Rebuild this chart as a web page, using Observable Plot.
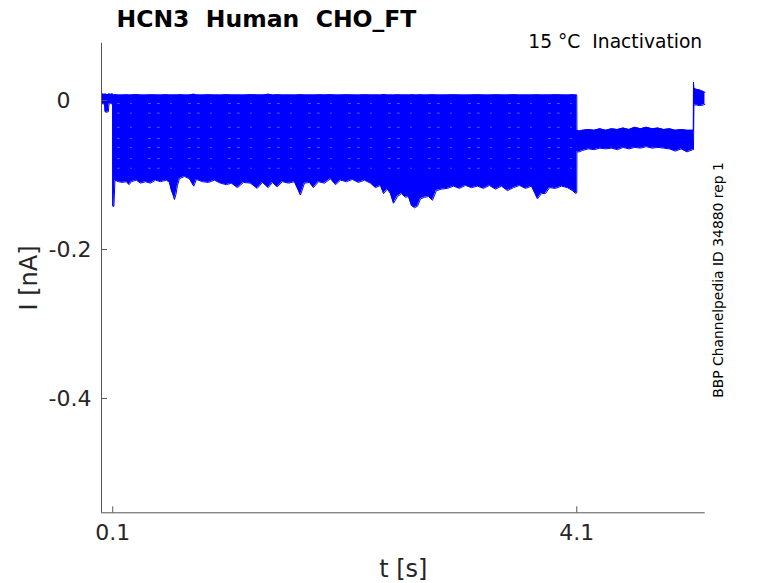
<!DOCTYPE html>
<html><head><meta charset="utf-8">
<script src="https://cdn.jsdelivr.net/npm/d3@7"></script>
<script src="https://cdn.jsdelivr.net/npm/@observablehq/plot@0.6"></script>
<style>
body{margin:0;background:#fff}
svg{display:block}
svg text{white-space:pre}
</style>
</head><body><div id="chart"></div>
<script>
// Envelope of all sweeps (time in s, current in nA)
const times = [
 0.003,0.030,0.034,0.045,0.062,0.067,0.080,0.099,
 0.100,0.110,0.119,0.149,0.184,0.218,0.240,0.261,0.304,0.339,0.382,0.425,0.468,0.511,0.563,0.589,
 0.606,0.623,0.632,0.645,0.658,0.675,0.718,0.761,0.798,0.822,0.873,0.925,0.977,1.028,1.080,1.123,
 1.175,1.227,1.287,1.345,1.391,1.440,1.477,1.517,1.563,1.615,1.666,1.718,1.753,1.796,1.830,1.873,
 1.925,1.977,2.020,2.063,2.115,2.166,2.218,2.270,2.322,2.365,2.408,2.434,2.468,2.494,2.520,2.554,
 2.589,2.623,2.649,2.675,2.701,2.727,2.753,2.787,2.822,2.856,2.890,2.933,2.985,3.037,3.089,3.140,
 3.192,3.244,3.296,3.347,3.399,3.451,3.503,3.554,3.606,3.658,3.710,3.761,3.796,3.830,3.865,3.916,
 3.968,4.020,4.063,4.089,4.100,
 4.101,4.120,4.150,4.200,4.250,4.300,4.350,4.400,4.450,4.500,4.550,4.600,4.650,4.700,4.750,4.800,
 4.850,4.900,4.950,5.000,5.050,5.100,5.105,
 5.106,5.110,5.130,5.160,5.190,5.205
];
const upper = [
 0.009,0.008,0.009,0.008,0.008,0.009,0.008,0.009,
 0.0075,0.0075,0.0078,0.0072,0.0074,0.0076,0.0073,0.0075,0.0079,0.0074,0.0072,0.0076,0.0075,0.0073,0.0077,0.0074,
 0.0075,0.0072,0.0076,0.0074,0.0075,0.0078,0.0073,0.0074,0.0085,0.0075,0.0073,0.0076,0.0074,0.0072,0.0077,0.0075,
 0.0074,0.0073,0.0078,0.0075,0.0074,0.0084,0.0073,0.0076,0.0074,0.0075,0.0072,0.0077,0.0075,0.0074,0.0073,0.0076,
 0.0075,0.0078,0.0073,0.0074,0.0076,0.0075,0.0072,0.0077,0.0074,0.0075,0.0073,0.0079,0.0074,0.0075,0.0073,0.0076,
 0.0074,0.0075,0.0072,0.0077,0.0075,0.0074,0.0076,0.0073,0.0075,0.0078,0.0074,0.0073,0.0075,0.0076,0.0074,0.0072,
 0.0075,0.0077,0.0074,0.0073,0.0076,0.0075,0.0074,0.0078,0.0073,0.0075,0.0074,0.0076,0.0073,0.0075,0.0074,0.0077,
 0.0075,0.0073,0.0076,0.0074,0.0075,
 -0.040,-0.041,-0.040,-0.039,-0.040,-0.038,-0.040,-0.038,-0.039,-0.037,-0.039,-0.036,-0.038,-0.036,-0.038,-0.037,
 -0.039,-0.038,-0.040,-0.039,-0.040,-0.040,-0.040,
 0.0246,0.016,0.015,0.014,0.012,0.011
];
const lower = [
 -0.004,-0.005,-0.015,-0.016,-0.015,-0.005,-0.004,-0.005,
 -0.142,-0.142,-0.107,-0.109,-0.110,-0.109,-0.113,-0.109,-0.107,-0.111,-0.109,-0.111,-0.107,-0.109,-0.107,-0.110,
 -0.121,-0.128,-0.133,-0.126,-0.114,-0.105,-0.102,-0.105,-0.115,-0.106,-0.109,-0.110,-0.107,-0.111,-0.113,-0.111,
 -0.117,-0.110,-0.111,-0.118,-0.110,-0.117,-0.110,-0.116,-0.109,-0.111,-0.109,-0.127,-0.111,-0.110,-0.117,-0.109,
 -0.111,-0.105,-0.113,-0.107,-0.109,-0.106,-0.110,-0.107,-0.111,-0.117,-0.114,-0.125,-0.119,-0.125,-0.138,-0.129,
 -0.125,-0.130,-0.129,-0.141,-0.144,-0.142,-0.132,-0.130,-0.129,-0.134,-0.121,-0.119,-0.118,-0.115,-0.118,-0.114,
 -0.117,-0.115,-0.118,-0.114,-0.119,-0.115,-0.121,-0.117,-0.114,-0.118,-0.115,-0.132,-0.125,-0.125,-0.117,-0.118,
 -0.115,-0.117,-0.121,-0.125,-0.124,
 -0.069,-0.069,-0.067,-0.065,-0.066,-0.064,-0.065,-0.064,-0.066,-0.063,-0.065,-0.063,-0.064,-0.062,-0.064,-0.063,
 -0.064,-0.065,-0.068,-0.065,-0.069,-0.066,-0.066,
 -0.066,-0.006,-0.006,-0.007,-0.006,-0.005
];
// Levels between sweeps where the traces leave small gaps (nA), and their time span (s)
const gapLevels = [-0.004, -0.017, -0.036, -0.051, -0.063, -0.078, -0.091];
const gapSpan = [0.14, 4.07];

const xTicks = [0.1, 4.1];
const yTicks = [0, -0.2, -0.4];
const xDomain = [0.003, 5.207];
const yDomain = [-0.5535, 0.0769];

const rows = times.map((t, i) => ({t, hi: upper[i], lo: lower[i]}));
const gaps = gapLevels.flatMap((v, k) => gapSpan.map(t => ({t, v, k})));
const axisColor = "#555555";
const labelColor = "#262626";

const chart = Plot.plot({
  width: 778, height: 583,
  marginLeft: 101, marginRight: 73.3, marginTop: 42.7, marginBottom: 70.7,
  style: {fontFamily: "DejaVu Sans", background: "white", overflow: "visible"},
  x: {domain: xDomain},
  y: {domain: yDomain},
  marks: [
    Plot.areaY(rows, {x: "t", y1: "lo", y2: "hi", fill: "#0000ff"}),
    Plot.lineY(rows, {x: "t", y: "hi", stroke: "#0000ff", strokeWidth: 1}),
    Plot.lineY(rows, {x: "t", y: "lo", stroke: "#0000ff", strokeWidth: 1}),
    Plot.lineY(gaps, {x: "t", y: "v", z: "k", stroke: "white", strokeWidth: 1, strokeOpacity: 0.35,
      strokeDasharray: "2 11 1 17 2 7"}),
    Plot.ruleX([xDomain[0]], {stroke: axisColor, strokeWidth: 1}),
    Plot.ruleY([yDomain[0]], {stroke: axisColor, strokeWidth: 1}),
    Plot.axisY({ticks: yTicks, tickSize: 6, dx: 6, fill: "none", stroke: axisColor, label: null}),
    Plot.axisX({ticks: xTicks, tickSize: 6, dy: -6, fill: "none", stroke: axisColor, label: null}),
    Plot.axisY({ticks: yTicks, tickSize: 0, tickPadding: 10, fontSize: 22, fill: labelColor, label: null,
      tickFormat: d => d === 0 ? "0\u2007\u2008" : String(d)}),
    Plot.axisX({ticks: xTicks, tickSize: 0, tickPadding: 12, fontSize: 22, fill: labelColor, label: null,
      tickFormat: d => String(d)}),
    Plot.text(["HCN3  Human  CHO_FT"], {text: d => d, frameAnchor: "top-left", dx: 15, dy: -16.5,
      textAnchor: "start", lineAnchor: "bottom", fontSize: 23.5, fontWeight: "bold", fill: "black"}),
    Plot.text(["15 °C  Inactivation"], {text: d => d, frameAnchor: "top-right", dx: -3, dy: 4.3,
      textAnchor: "end", lineAnchor: "bottom", fontSize: 18.7, fill: "black"}),
    Plot.text(["BBP Channelpedia ID 34880 rep 1"], {text: d => d, frameAnchor: "right", dx: 18, dy: 2,
      rotate: -90, textAnchor: "middle", lineAnchor: "bottom", fontSize: 13.9, fill: "black"}),
    Plot.text(["I [nA]"], {text: d => d, frameAnchor: "left", dx: -65, dy: 0,
      rotate: -90, textAnchor: "middle", lineAnchor: "bottom", fontSize: 24, fill: labelColor}),
    Plot.text(["t [s]"], {text: d => d, frameAnchor: "bottom", dy: 63.7,
      textAnchor: "middle", lineAnchor: "bottom", fontSize: 24, fill: labelColor})
  ]
});
document.getElementById("chart").appendChild(chart);
</script>
</body></html>
